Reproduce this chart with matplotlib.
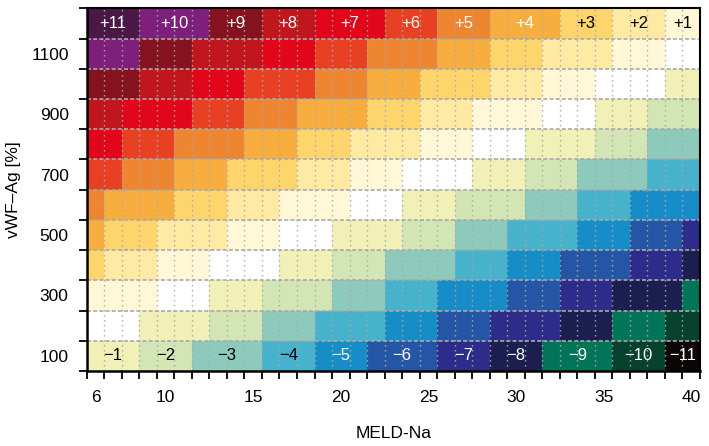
import numpy as np
import matplotlib
matplotlib.use("Agg")
import matplotlib.pyplot as plt
from matplotlib.colors import ListedColormap, BoundaryNorm

plt.rcParams['font.family'] = ['Liberation Sans', 'DejaVu Sans']

# MELD-Na categories (columns) and vWF-Ag categories (rows)
meld = list(range(6, 41))
vwf_rows = [1200, 1100, 1000, 900, 800, 700, 600, 500, 400, 300, 200, 100]
vwf_ticklabels = [100, 300, 500, 700, 900, 1100]
meld_ticklabels = [6, 10, 15, 20, 25, 30, 35, 40]

# score per cell, one list per vWF-Ag row (top to bottom), columns MELD-Na 6..40
row_1200 = [11,11,11,10,10,10,10,9,9,9,8,8,8,7,7,7,7,6,6,6,5,5,5,4,4,4,4,3,3,3,2,2,2,1,1]
row_1100 = [10,10,10,9,9,9,8,8,8,8,7,7,7,6,6,6,5,5,5,5,4,4,4,3,3,3,2,2,2,2,1,1,1,0,0]
row_1000 = [9,9,9,8,8,8,7,7,7,6,6,6,6,5,5,5,4,4,4,3,3,3,3,2,2,2,1,1,1,0,0,0,0,-1,-1]
row_900 = [8,8,7,7,7,7,6,6,6,5,5,5,4,4,4,4,3,3,3,2,2,2,1,1,1,1,0,0,0,-1,-1,-1,-2,-2,-2]
row_800 = [7,7,6,6,6,5,5,5,5,4,4,4,3,3,3,2,2,2,2,1,1,1,0,0,0,-1,-1,-1,-1,-2,-2,-2,-3,-3,-3]
row_700 = [6,6,5,5,5,4,4,4,3,3,3,3,2,2,2,1,1,1,0,0,0,0,-1,-1,-1,-2,-2,-2,-3,-3,-3,-3,-4,-4,-4]
row_600 = [5,4,4,4,4,3,3,3,2,2,2,1,1,1,1,0,0,0,-1,-1,-1,-2,-2,-2,-2,-3,-3,-3,-4,-4,-4,-5,-5,-5,-5]
row_500 = [4,3,3,3,2,2,2,2,1,1,1,0,0,0,-1,-1,-1,-1,-2,-2,-2,-3,-3,-3,-4,-4,-4,-4,-5,-5,-5,-6,-6,-6,-7]
row_400 = [3,2,2,2,1,1,1,0,0,0,0,-1,-1,-1,-2,-2,-2,-3,-3,-3,-3,-4,-4,-4,-5,-5,-5,-6,-6,-6,-6,-7,-7,-7,-8]
row_300 = [1,1,1,1,0,0,0,-1,-1,-1,-2,-2,-2,-2,-3,-3,-3,-4,-4,-4,-5,-5,-5,-5,-6,-6,-6,-7,-7,-7,-8,-8,-8,-8,-9]
row_200 = [0,0,0,-1,-1,-1,-1,-2,-2,-2,-3,-3,-3,-4,-4,-4,-4,-5,-5,-5,-6,-6,-6,-7,-7,-7,-7,-8,-8,-8,-9,-9,-9,-10,-10]
row_100 = [-1,-1,-1,-2,-2,-2,-3,-3,-3,-3,-4,-4,-4,-5,-5,-5,-6,-6,-6,-6,-7,-7,-7,-8,-8,-8,-9,-9,-9,-9,-10,-10,-10,-11,-11]

score_levels = list(range(-11, 12))
level_colors = [
    "#0c0606", "#06422e", "#027458", "#1d1e50", "#2d2c8b", "#2456a5",
    "#168dc6", "#46b2cb", "#8dcabb", "#d3e4b5", "#f0f0b7", "#ffffff",
    "#fff7d5", "#feeaa3", "#fed56c", "#f8ae3f", "#ee8631", "#e84022",
    "#e2061a", "#c0171e", "#85131f", "#7e1f7b", "#4a1846",
]

rows_top_to_bottom = [row_1200, row_1100, row_1000, row_900, row_800, row_700,
                      row_600, row_500, row_400, row_300, row_200, row_100]
Z = np.array(rows_top_to_bottom[::-1])
vwf_bottom_up = vwf_rows[::-1]

x_edges = np.arange(meld[0] - 0.5, meld[-1] + 1.0, 1.0)
y_edges = np.arange(vwf_bottom_up[0] - 50, vwf_bottom_up[-1] + 100, 100)

cmap = ListedColormap(level_colors)
norm = BoundaryNorm(np.arange(-11.5, 12.0, 1.0), cmap.N)

fig = plt.figure(figsize=(7.09, 4.46), dpi=100)
ax = fig.add_axes([0.1223, 0.1682, 0.8650, 0.8132])

ax.pcolormesh(x_edges, y_edges, Z, cmap=cmap, norm=norm, shading='flat', zorder=1)

grid_col = "#a9a9a9"
ax.vlines(x_edges[1:-1], y_edges[0], y_edges[-1], colors=grid_col,
          linewidth=1.0, linestyles=(0, (1, 2.6)), zorder=2)
ax.hlines(y_edges[1:-1], x_edges[0], x_edges[-1], colors=grid_col,
          linewidth=1.2, linestyles=(0, (2.4, 1.3)), zorder=2)

# block labels in top and bottom rows
def block_labels(row, yval):
    arr = np.array(row)
    m = np.array(meld)
    for v in np.unique(arr):
        xs = m[arr == v]
        xc = xs.mean()
        txt = ("+%d" % v) if v > 0 else ("\u2212%d" % (-v))
        dark = v >= 4 or v <= -5
        ax.text(xc, yval, txt, ha='center', va='center', fontsize=12,
                color='white' if dark else 'black', zorder=3)

block_labels(row_1200, vwf_rows[0])
block_labels(row_100, vwf_rows[-1])

ax.set_xlim(x_edges[0], x_edges[-1])
ax.set_ylim(y_edges[0], y_edges[-1])

ax.set_xticks(meld_ticklabels)
ax.set_xticks(x_edges, minor=True)
ax.set_yticks(vwf_ticklabels)
ax.set_yticks(y_edges, minor=True)
ax.tick_params(axis='both', which='major', length=0, labelsize=12.5)
ax.tick_params(axis='x', which='major', pad=14)
ax.tick_params(axis='y', which='major', pad=13)
ax.tick_params(axis='both', which='minor', length=6, width=1.3, direction='out')

for s in ax.spines.values():
    s.set_linewidth(1.5)
    s.set_zorder(4)
ax.spines['left'].set_linewidth(1.8)
ax.spines['bottom'].set_linewidth(1.8)

ax.set_xlabel("MELD-Na", fontsize=12.5, labelpad=15)
ax.set_ylabel("vWF\u2013Ag [%]", fontsize=12.5, labelpad=7)

fig.savefig("out.png", dpi=100)
